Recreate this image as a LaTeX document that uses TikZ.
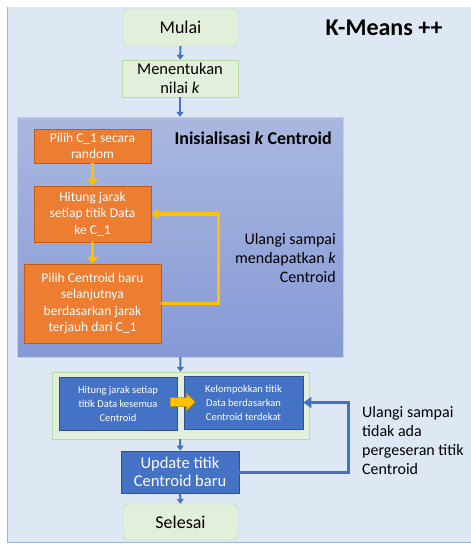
\documentclass[tikz,border=0pt]{standalone}
\usepackage{fontspec}
\setmainfont{Carlito}
\usetikzlibrary{arrows.meta,shapes.arrows}
\definecolor{bgfill}{HTML}{DEE8F4}
\definecolor{bgline}{HTML}{9DB3DE}
\definecolor{greenfill}{HTML}{E2EFDA}
\definecolor{greenline}{HTML}{B9DBA4}
\definecolor{orangefill}{HTML}{ED7D31}
\definecolor{orangeline}{HTML}{C55A11}
\definecolor{yellowarr}{HTML}{FFC000}
\definecolor{bluefill}{HTML}{4472C4}
\definecolor{blueline}{HTML}{2F528F}
\definecolor{inittop}{HTML}{AAB8E0}
\definecolor{initbot}{HTML}{8599D5}

\begin{document}
\begin{tikzpicture}[x=1pt,y=-1pt,
  greenbox/.style={draw=greenline,fill=greenfill,align=center,inner sep=0pt,
    font=\fontsize{16.5}{18.5}\selectfont},
  orangebox/.style={draw=orangeline,fill=orangefill,text=white,align=center,
    inner sep=0pt,line width=.8pt,font=\fontsize{13.5}{16.5}\selectfont},
  bluebox/.style={draw=blueline,fill=bluefill,text=white,align=center,
    inner sep=0pt,line width=.8pt,font=\fontsize{10.5}{14}\selectfont},
  flow/.style={draw=bluefill,line width=2pt,-{Triangle[width=7pt,length=5pt]}},
  yflow/.style={draw=yellowarr,line width=3.5pt,-{Triangle[width=11pt,length=7pt]}},
  loopblue/.style={draw=bluefill,line width=3pt,-{Triangle[width=11pt,length=8pt]}},
  note/.style={inner sep=0pt,font=\fontsize{16}{19}\selectfont}]
\useasboundingbox (0,0) rectangle (471,544);
\fill[bgfill] (7,7) rectangle (471,542);
\draw[bgline,line width=1pt] (7,7) -- (7,542) -- (471,542);

\node[greenbox,rounded corners=5pt,minimum width=115pt,minimum height=37pt,font=\fontsize{18}{20}\selectfont] (mulai) at (180.5,27.5) {Mulai};
\node[inner sep=0pt,font=\fontsize{24}{28}\selectfont\bfseries] (judul) at (384,28) {K-Means ++};
\node[greenbox,minimum width=116pt,minimum height=37pt] (nilai) at (180,78.5) {Menentukan\\nilai \textit{k}};

\node[shade,top color=inittop,bottom color=initbot,draw=inittop!70!white,
  minimum width=326pt,minimum height=240pt] (init) at (180,237) {};
\node[anchor=east,inner sep=0pt,font=\fontsize{18}{20}\selectfont\bfseries] (initjudul) at (332,138) {Inisialisasi \textit{k} Centroid};
\node[orangebox,minimum width=117pt,minimum height=34pt] (pilih) at (92.5,146) {Pilih C\_1 secara\\random};
\node[orangebox,minimum width=117pt,minimum height=56pt] (hitung) at (92.5,214) {Hitung jarak\\setiap titik Data\\ke C\_1};
\node[orangebox,minimum width=137pt,minimum height=79pt] (baru) at (92.5,303.5) {Pilih Centroid baru\\selanjutnya\\berdasarkan jarak\\terjauh dari C\_1};
\node[note,anchor=east,align=right] (ulang1) at (336,258) {Ulangi sampai\\mendapatkan \textit{k}\\Centroid};

\node[greenbox,minimum width=257pt,minimum height=67pt] (grup) at (180.5,405.5) {};
\node[bluebox,minimum width=118pt,minimum height=53pt] (jarak) at (118,403.5) {Hitung jarak setiap\\titik Data kesemua\\Centroid};
\node[bluebox,minimum width=119pt,minimum height=53pt] (kelompok) at (243.5,402.5) {Kelompokkan titik\\Data berdasarkan\\Centroid terdekat};
\node[single arrow,fill=yellowarr,draw=yellowarr!75!black,line width=.6pt,inner sep=4pt,
  minimum height=25pt,minimum width=17pt,single arrow head extend=4pt] (panah) at (180.5,402) {};
\node[bluebox,minimum width=118pt,minimum height=42pt,font=\fontsize{16.5}{18.5}\selectfont] (update) at (180,472) {Update titik\\Centroid baru};
\node[note,anchor=west,align=left] (ulang2) at (362,440) {Ulangi sampai\\tidak ada\\pergeseran titik\\Centroid};
\node[greenbox,rounded corners=5pt,minimum width=115pt,minimum height=36pt,font=\fontsize{18}{20}\selectfont] (selesai) at (180.5,522) {Selesai};

\draw[flow] (mulai) -- (nilai);
\draw[flow] (nilai) -- (init);
\draw[yflow] (pilih) -- (hitung);
\draw[yflow] (hitung) -- (hitung |- baru.north);
\draw[yflow] (baru.east) -- ++(57,0) |- (hitung.east);
\draw[flow] (init) -- (grup);
\draw[flow] (grup) -- (update);
\draw[loopblue] (update.east) -- ++(109,0) |- (kelompok.east);
\draw[flow] (update) -- (selesai);
\end{tikzpicture}
\end{document}
